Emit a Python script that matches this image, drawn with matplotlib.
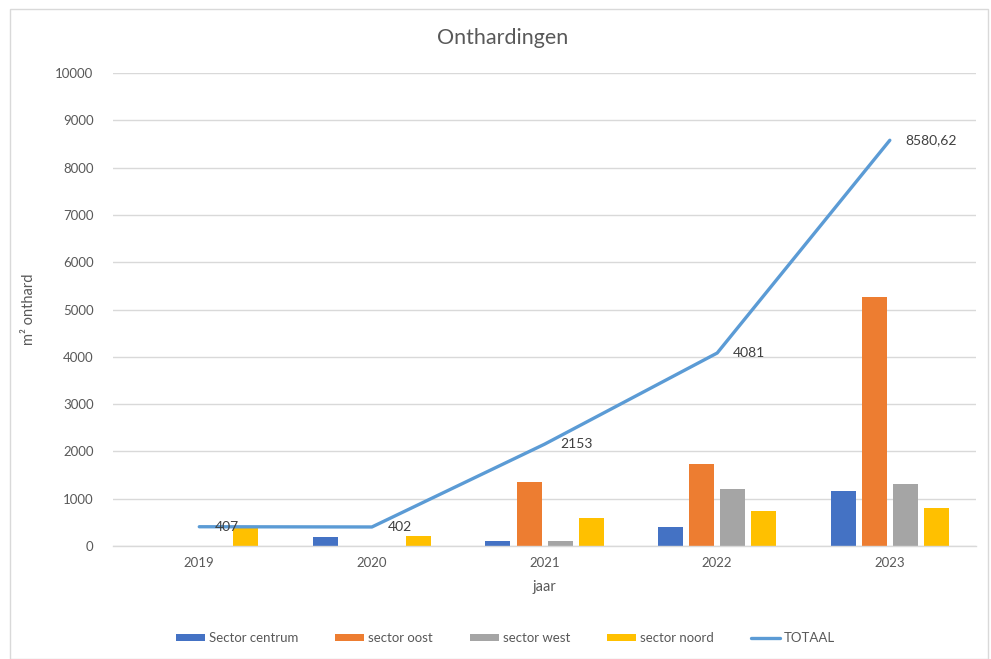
import matplotlib.pyplot as plt
import numpy as np

jaren = ['2019', '2020', '2021', '2022', '2023']
centrum = [0, 200, 100, 405, 1163]
oost = [0, 0, 1360, 1730, 5268]
west = [0, 0, 110, 1215, 1310]
noord = [407, 202, 583, 731, 800]
totaal = [407, 402, 2153, 4081, 8580.62]
totaal_labels = ['407', '402', '2153', '4081', '8580,62']

plt.rcParams['font.family'] = ['Lato', 'DejaVu Sans']
txt = '#595959'

fig = plt.figure(figsize=(9.91, 6.59), dpi=100)
ax = fig.add_axes([0.114, 0.1715, 0.871, 0.7175])

x = np.arange(len(jaren))
w = 0.145
step = 0.18
series = [('Sector centrum', centrum, '#4472C4'),
          ('sector oost', oost, '#ED7D31'),
          ('sector west', west, '#A5A5A5'),
          ('sector noord', noord, '#FFC000')]
for i, (naam, vals, kleur) in enumerate(series):
    ax.bar(x + (i - 1.5) * step, vals, w, color=kleur, label=naam, zorder=2)

ax.plot(x, totaal, color='#5B9BD5', lw=2.4, label='TOTAAL', zorder=3,
        solid_capstyle='round')
for xi, yi, lab in zip(x, totaal, totaal_labels):
    ax.annotate(lab, (xi, yi), xytext=(16, 0), textcoords='offset pixels',
                ha='left', va='center', fontsize=10, color='#404040', zorder=4)

ax.set_xlim(-0.5, 4.5)
ax.set_ylim(0, 10000)
ax.set_yticks(range(0, 10001, 1000))
ax.set_xticks(x)
ax.set_xticklabels(jaren)
ax.tick_params(length=0, labelsize=9.5, colors=txt, pad=8)
ax.tick_params(axis='y', pad=14)
ax.grid(axis='y', color='#D9D9D9', lw=1, zorder=0)
for s in ['top', 'right', 'left']:
    ax.spines[s].set_visible(False)
ax.spines['bottom'].set_color('#D9D9D9')
ax.spines['bottom'].set_linewidth(1)

ax.set_xlabel('jaar', fontsize=10.5, color=txt, labelpad=8)
ax.set_ylabel('m² onthard', fontsize=10.5, color=txt, labelpad=14)
fig.text(0.507, 0.942, 'Onthardingen', ha='center', va='center',
         fontsize=15.5, color=txt)

handles, labels = ax.get_legend_handles_labels()
order = [1, 2, 3, 4, 0]
fig.legend([handles[i] for i in order], [labels[i] for i in order],
           loc='center', bbox_to_anchor=(0.51, 0.032), ncol=5, frameon=False,
           fontsize=9.5, labelcolor=txt, handlelength=2.2, handleheight=0.45,
           columnspacing=2.8, handletextpad=0.3)

fig.patches.append(plt.Rectangle((0.01, 0.0), 0.987, 0.986, transform=fig.transFigure,
                                 fill=False, edgecolor='#D9D9D9', lw=1))

fig.savefig('out.png', dpi=100)
